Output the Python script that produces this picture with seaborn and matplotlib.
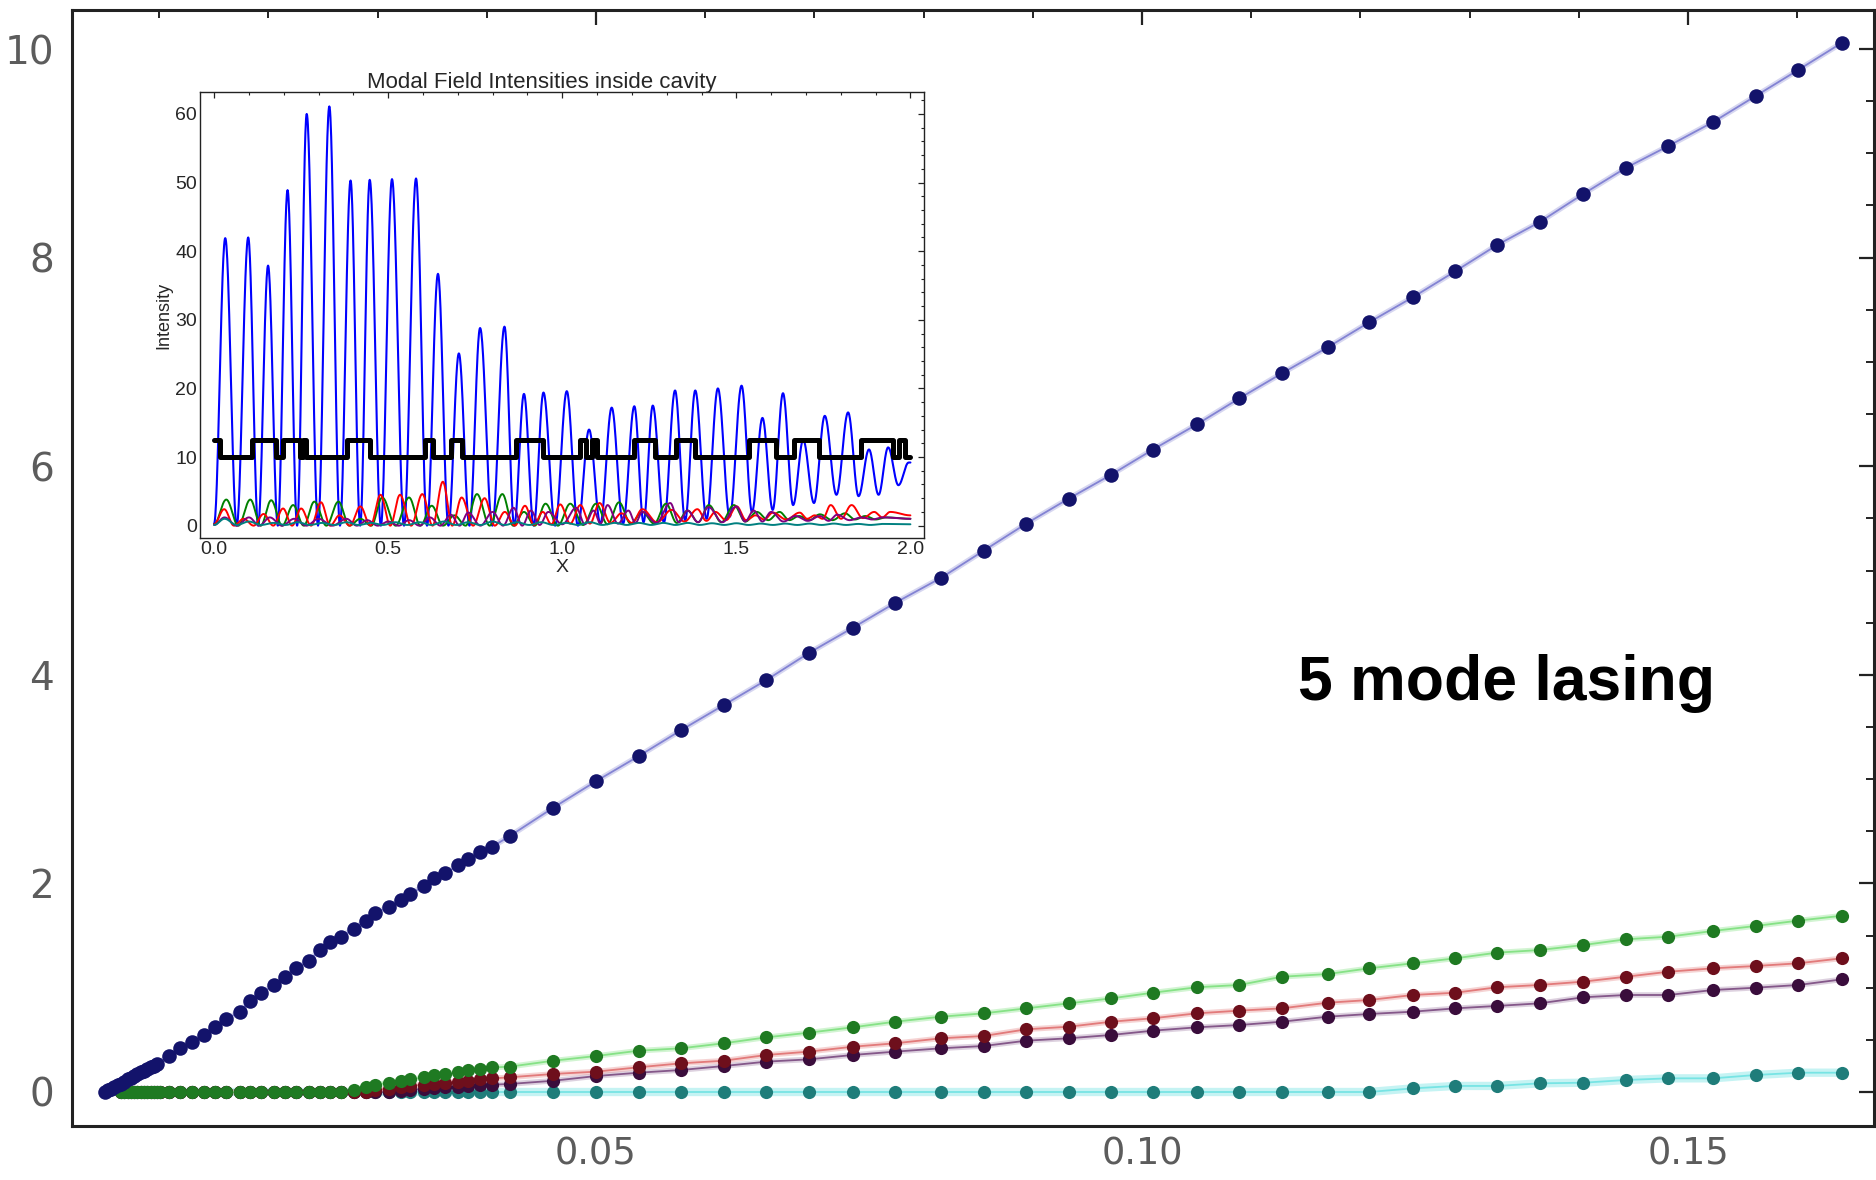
import numpy as np
import matplotlib
matplotlib.use("Agg")
import matplotlib.pyplot as plt
import seaborn as sns
from matplotlib.ticker import MultipleLocator, FixedLocator, FixedFormatter
from matplotlib import font_manager

# ---------------- main panel data (pump vs modal intensity) ----------------
navy_x = [0.0050, 0.0053, 0.0056, 0.0059, 0.0062, 0.0065, 0.0068, 0.0071, 0.0074,
          0.0077, 0.0080, 0.0083, 0.0086, 0.0089, 0.0092, 0.0095, 0.0098,
          0.0109, 0.0119, 0.0130, 0.0141, 0.0151, 0.0161, 0.0174, 0.0183, 0.0193,
          0.0205, 0.0215, 0.0225, 0.0237, 0.0247, 0.0256, 0.0266, 0.0278, 0.0289,
          0.0298, 0.0310, 0.0321, 0.0330, 0.0342, 0.0352, 0.0362, 0.0374, 0.0383,
          0.0394, 0.0405,
          0.0421, 0.0461, 0.0500, 0.0539, 0.0578, 0.0617, 0.0656, 0.0695, 0.0735,
          0.0774, 0.0816, 0.0855, 0.0894, 0.0933, 0.0972, 0.1010, 0.1050, 0.1089,
          0.1128, 0.1170, 0.1208, 0.1248, 0.1287, 0.1325, 0.1364, 0.1404, 0.1443,
          0.1482, 0.1523, 0.1562, 0.1601, 0.1641]
navy_y = [0.00, 0.02, 0.03, 0.05, 0.07, 0.08, 0.10, 0.12, 0.13,
          0.15, 0.17, 0.19, 0.20, 0.22, 0.24, 0.25, 0.27,
          0.345, 0.419, 0.482, 0.547, 0.626, 0.697, 0.770, 0.876, 0.946,
          1.026, 1.100, 1.186, 1.256, 1.361, 1.441, 1.489, 1.563, 1.643,
          1.719, 1.771, 1.841, 1.898, 1.975, 2.049, 2.097, 2.176, 2.231,
          2.304, 2.352,
          2.454, 2.727, 2.98, 3.22, 3.47, 3.71, 3.95, 4.21, 4.45,
          4.69, 4.93, 5.19, 5.45, 5.69, 5.92, 6.16, 6.40, 6.65,
          6.89, 7.14, 7.38, 7.62, 7.87, 8.12, 8.34, 8.61, 8.86,
          9.07, 9.30, 9.55, 9.80, 10.06]

mode_x = [0.0065, 0.0068, 0.0071, 0.0074, 0.0077, 0.0080, 0.0083, 0.0086, 0.0089,
          0.0092, 0.0095, 0.0098, 0.0101,
          0.0109, 0.0119, 0.0130, 0.0141, 0.0151, 0.0161, 0.0174, 0.0183, 0.0193,
          0.0205, 0.0215, 0.0225, 0.0237, 0.0247, 0.0256, 0.0266, 0.0278, 0.0289,
          0.0298, 0.0310, 0.0321, 0.0330, 0.0342, 0.0352, 0.0362, 0.0374, 0.0383,
          0.0394, 0.0405,
          0.0421, 0.0461, 0.0500, 0.0539, 0.0578, 0.0617, 0.0656, 0.0695, 0.0735,
          0.0774, 0.0816, 0.0855, 0.0894, 0.0933, 0.0972, 0.1010, 0.1050, 0.1089,
          0.1128, 0.1170, 0.1208, 0.1248, 0.1287, 0.1325, 0.1364, 0.1404, 0.1443,
          0.1482, 0.1523, 0.1562, 0.1601, 0.1641]
green_y = [0]*13 + [0]*16 + [0.02, 0.05, 0.07, 0.09, 0.11, 0.12, 0.14, 0.16, 0.17,
           0.19, 0.21, 0.22, 0.235] + \
          [0.243, 0.30, 0.345, 0.396, 0.419, 0.467, 0.524, 0.569, 0.62, 0.674, 0.722,
           0.754, 0.802, 0.850, 0.898, 0.952, 1.004, 1.026, 1.105, 1.131, 1.186,
           1.234, 1.282, 1.336, 1.361, 1.409, 1.464, 1.489, 1.544, 1.592, 1.643, 1.690]
red_y = [0]*13 + [0]*18 + [0.02, 0.03, 0.05, 0.06, 0.07, 0.08, 0.09, 0.10, 0.11,
         0.12, 0.13] + \
        [0.141, 0.173, 0.195, 0.237, 0.275, 0.30, 0.355, 0.387, 0.434, 0.467, 0.515,
         0.537, 0.601, 0.626, 0.674, 0.707, 0.754, 0.780, 0.802, 0.856, 0.882,
         0.930, 0.952, 1.004, 1.026, 1.058, 1.105, 1.153, 1.186, 1.208, 1.234, 1.282]
purple_y = [0]*13 + [0]*20 + [0.01, 0.02, 0.03, 0.04, 0.045, 0.05, 0.06, 0.065, 0.07] + \
           [0.077, 0.108, 0.153, 0.185, 0.211, 0.249, 0.291, 0.313, 0.355, 0.387, 0.419,
            0.441, 0.492, 0.515, 0.547, 0.588, 0.620, 0.642, 0.674, 0.722, 0.748,
            0.770, 0.802, 0.825, 0.850, 0.908, 0.930, 0.930, 0.978, 1.000, 1.026, 1.080]
teal_y = [0]*13 + [0]*29 + [0]*21 + \
         [0.035, 0.058, 0.058, 0.083, 0.089, 0.115, 0.131, 0.131, 0.163, 0.185, 0.185]

x_major = [0.05, 0.10, 0.15]
x_major_labels = ["0.05", "0.10", "0.15"]
y_major = [0, 2, 4, 6, 8, 10]
y_major_labels = ["0", "2", "4", "6", "8", "10"]
annotation = "5 mode lasing"

# ---------------- inset data (field intensity along cavity) ----------------
blue_px = [0.032, 0.098, 0.155, 0.211, 0.266, 0.331, 0.392, 0.447, 0.511, 0.580,
           0.643, 0.703, 0.764, 0.834, 0.890, 0.946, 1.013, 1.077, 1.142, 1.207,
           1.260, 1.324, 1.382, 1.447, 1.515, 1.575, 1.634, 1.692, 1.754, 1.821,
           1.881, 1.936, 1.995]
blue_ph = [41.9, 42.0, 37.9, 48.9, 60.0, 61.1, 50.3, 50.4, 50.5, 50.6,
           36.7, 25.1, 28.8, 29.0, 19.2, 19.4, 19.6, 14.0, 17.2, 17.4,
           17.5, 19.7, 19.7, 20.0, 20.4, 15.7, 19.3, 12.5, 16.0, 16.5,
           11.1, 11.4, 9.2]
blue_tv = [0.3, 0, 0, 0, 0, 0, 0, 0, 0, 0, 0, 0, 0, 0, 0, 0, 0, 0,
           0.3, 0.3, 0.5, 0.5, 0.8, 1.0, 1.3, 2.0, 2.3, 3.0, 3.3, 4.5, 4.3, 4.5, 5.9, 9.2]

green_px = [0.035, 0.104, 0.164, 0.227, 0.288, 0.357, 0.420, 0.483, 0.560, 0.625,
            0.690, 0.755, 0.828, 0.890, 0.952, 1.023, 1.097, 1.163, 1.230, 1.298,
            1.360, 1.421, 1.493, 1.559, 1.624, 1.680, 1.740, 1.812, 1.870, 1.930]
green_ph = [3.8, 3.8, 3.7, 3.0, 3.5, 3.5, 1.0, 4.1, 4.1, 2.9,
            1.5, 4.6, 4.6, 2.0, 3.2, 3.2, 3.2, 3.4, 2.0, 3.2,
            2.2, 3.0, 3.0, 2.0, 2.0, 1.4, 1.65, 1.8, 1.4, 1.2]
green_tv = [0.2, 0, 0, 0, 0, 0, 0, 0, 0, 0, 0, 0, 0, 0, 0, 0, 0.1, 0.2, 0.3, 0.3,
            0.4, 0.5, 0.5, 0.6, 0.8, 0.8, 0.8, 0.8, 0.9, 0.9, 1.0]

red_px = [0.029, 0.085, 0.142, 0.198, 0.250, 0.307, 0.360, 0.420, 0.478, 0.534,
          0.598, 0.657, 0.711, 0.777, 0.835, 0.893, 0.944, 0.994, 1.052, 1.107,
          1.170, 1.230, 1.314, 1.388, 1.440, 1.501, 1.555, 1.605, 1.682, 1.725,
          1.771, 1.831, 1.896, 1.942]
red_ph = [2.4, 1.0, 1.7, 2.5, 2.5, 3.4, 1.5, 2.8, 4.5, 4.5,
          4.6, 6.4, 4.1, 4.0, 2.0, 2.9, 2.0, 3.1, 3.0, 3.3,
          1.8, 2.4, 2.3, 2.4, 2.0, 2.8, 1.5, 1.9, 1.9, 1.5,
          3.0, 3.0, 2.0, 2.0]
red_tv = [0.2, 0, 0, 0, 0, 0, 0, 0, 0, 0, 0, 0, 0, 0, 0, 0, 0.1, 0.2, 0.3, 0.3,
          0.4, 0.4, 0.5, 0.6, 0.7, 0.8, 0.8, 0.9, 0.9, 1.0, 1.0, 1.0, 1.1, 1.2, 1.5]

purple_px = [0.030, 0.100, 0.160, 0.230, 0.300, 0.380, 0.440, 0.500, 0.560, 0.620,
             0.680, 0.730, 0.800, 0.860, 0.910, 0.960, 1.040, 1.090, 1.130, 1.190,
             1.230, 1.310, 1.360, 1.420, 1.500, 1.550, 1.600, 1.670, 1.740, 1.790,
             1.860, 1.920]
purple_ph = [1.2, 1.2, 1.2, 1.0, 1.0, 1.0, 0.8, 0.6, 0.8, 1.2,
             1.6, 1.9, 2.0, 2.6, 2.2, 2.0, 2.6, 2.2, 3.0, 2.2,
             2.0, 3.3, 2.2, 2.7, 2.8, 2.2, 2.0, 1.4, 1.4, 1.6,
             1.2, 1.2]
purple_tv = [0.1, 0, 0, 0, 0, 0, 0, 0, 0, 0, 0, 0, 0, 0, 0, 0.1, 0.2, 0.2, 0.3, 0.3,
             0.4, 0.4, 0.5, 0.5, 0.5, 0.6, 0.6, 0.6, 0.7, 0.7, 0.8, 0.9, 1.0]

teal_px = [0.030, 0.100, 0.170, 0.240, 0.310, 0.380, 0.450, 0.520, 0.590, 0.660,
           0.730, 0.800, 0.870, 0.940, 1.010, 1.080, 1.150, 1.220, 1.290, 1.360,
           1.430, 1.500, 1.570, 1.640, 1.710, 1.780, 1.850, 1.920]
teal_ph = [1.0, 0.6, 0.4, 0.5, 0.4, 0.5, 0.4, 0.5, 0.5, 0.6,
           0.5, 0.6, 0.5, 0.5, 0.4, 0.5, 0.4, 0.4, 0.4, 0.4,
           0.35, 0.35, 0.3, 0.3, 0.3, 0.3, 0.25, 0.25]
teal_tv = [0.1] * 28 + [0.2]

step_x = [0.0, 0.017, 0.109, 0.177, 0.198, 0.246, 0.255, 0.265, 0.382, 0.447,
          0.605, 0.630, 0.680, 0.713, 0.868, 0.946, 1.052, 1.068, 1.085, 1.100,
          1.207, 1.266, 1.328, 1.381, 1.537, 1.614, 1.667, 1.737, 1.858, 1.949,
          1.966, 1.985, 2.0]
step_y = [12.5, 10, 12.5, 10, 12.5, 10, 12.5, 10, 12.5, 10,
          12.5, 10, 12.5, 10, 12.5, 10, 12.5, 10, 12.5, 10,
          12.5, 10, 12.5, 10, 12.5, 10, 12.5, 10, 12.5, 10,
          12.5, 10, 10]

inset_title = "Modal Field Intensities inside cavity"
inset_xlabel = "X"
inset_ylabel = "Intensity"


def lobe_outline(px, ph, tv, x0, x1, n=30):
    """Smooth outline through read peaks (px, ph) and troughs tv."""
    tx = [x0] + [(px[i] + px[i + 1]) / 2 for i in range(len(px) - 1)] + [x1]
    xs, ys = [], []
    u = np.linspace(0, 1, n)
    for i in range(len(px)):
        a, p, b = tx[i], px[i], tx[i + 1]
        xs.append(a + (p - a) * u)
        ys.append(tv[i] + (ph[i] - tv[i]) * np.sin(np.pi / 2 * u) ** 2)
        xs.append(p + (b - p) * u)
        ys.append(tv[i + 1] + (ph[i] - tv[i + 1]) * np.cos(np.pi / 2 * u) ** 2)
    return np.concatenate(xs), np.concatenate(ys)


# ---------------- figure ----------------
sns.set_style("white")
plt.rcParams['font.family'] = ['DejaVu Sans']

W, H = 1876, 1180
fig = plt.figure(figsize=(W / 100, H / 100), dpi=100)
ax = fig.add_axes([72 / W, 1 - 1126 / H, (1874 - 72) / W, (1126 - 10) / H])

series = [
    (mode_x, teal_y, "#1f7d7a", "#6fe3e3", 6, 0.4),
    (mode_x, purple_y, "#3a0d3c", "#7a4a80", 4, 0.25),
    (mode_x, red_y, "#6e0f1c", "#e07070", 4, 0.3),
    (mode_x, green_y, "#1f7a22", "#7ee07e", 4, 0.35),
    (navy_x, navy_y, "#13136b", "#7a7ad0", 4, 0.3),
]
for xs, ys, mc, lc, hw, ha in series:
    sns.lineplot(x=xs, y=ys, ax=ax, color=lc, lw=hw, alpha=ha, sort=False,
                 estimator=None, legend=False)
    sns.lineplot(x=xs, y=ys, ax=ax, color=lc, lw=1.3, alpha=0.9, sort=False,
                 estimator=None, legend=False)
for xs, ys, mc, lc, hw, ha in series:
    size = 110 if mc == "#13136b" else 90
    sns.scatterplot(x=xs, y=ys, ax=ax, color=mc, s=size, linewidth=0,
                    legend=False, zorder=3)

ax.set_xlim(0.00201, 0.16703)
ax.set_ylim(-0.326, 10.374)
ax.xaxis.set_major_locator(FixedLocator(x_major))
ax.xaxis.set_major_formatter(FixedFormatter(x_major_labels))
ax.xaxis.set_minor_locator(MultipleLocator(0.01))
ax.yaxis.set_major_locator(FixedLocator(y_major))
ax.yaxis.set_major_formatter(FixedFormatter(y_major_labels))
ax.yaxis.set_minor_locator(MultipleLocator(0.5))
ax.tick_params(which="both", direction="in", top=True, right=True,
               labelsize=28, labelcolor="#5c5c5c", color="#222222")
ax.tick_params(which="major", length=11, width=1.6)
ax.tick_params(which="minor", length=6, width=1.4)
ax.tick_params(axis="x", which="major", pad=7, labelsize=26.5)
ax.tick_params(axis="y", which="major", pad=13)
for sp in ax.spines.values():
    sp.set_color("#222222")
    sp.set_linewidth(2.2)
ax.set_xlabel("")
ax.set_ylabel("")

ax.text(0.1334, 3.76, annotation, fontsize=45, fontweight="bold",
        family=["Liberation Sans", "DejaVu Sans"], ha="center", va="baseline",
        color="black")

# ---------------- inset ----------------
names = {f.name for f in font_manager.fontManager.ttflist}
narrow = "Liberation Sans Narrow" if "Liberation Sans Narrow" in names else "Liberation Sans"

ax2 = fig.add_axes([200 / W, 1 - 538 / H, 724 / W, 446 / H])
ax2.set_facecolor("white")
bx, by = lobe_outline(blue_px, blue_ph, blue_tv, 0.0, 2.0)
sns.lineplot(x=bx, y=by, ax=ax2, color="#0000ff", lw=1.5, sort=False,
             estimator=None, legend=False)
for px, ph, tv, col in [(green_px, green_ph, green_tv, "#008000"),
                        (red_px, red_ph, red_tv, "#ff0000"),
                        (purple_px, purple_ph, purple_tv, "#800080"),
                        (teal_px, teal_ph, teal_tv, "#008080")]:
    cx, cy = lobe_outline(px, ph, tv, 0.0, 2.0)
    sns.lineplot(x=cx, y=cy, ax=ax2, color=col, lw=1.4, sort=False,
                 estimator=None, legend=False)
sns.lineplot(x=step_x, y=step_y, ax=ax2, color="black", lw=3.6, sort=False,
             estimator=None, legend=False, drawstyle="steps-post")

ax2.set_xlim(-0.0405, 2.039)
ax2.set_ylim(-1.8, 63.2)
ax2.xaxis.set_major_locator(MultipleLocator(0.5))
ax2.xaxis.set_major_formatter(matplotlib.ticker.FormatStrFormatter("%.1f"))
ax2.xaxis.set_minor_locator(MultipleLocator(0.1))
ax2.yaxis.set_major_locator(MultipleLocator(10))
ax2.yaxis.set_minor_locator(MultipleLocator(2))
ax2.tick_params(which="both", direction="in", top=True, right=True,
                labelsize=14, color="#222222", pad=2)
ax2.tick_params(which="major", length=4, width=0.9)
ax2.tick_params(which="minor", length=2, width=0.8)
for lab in ax2.get_xticklabels() + ax2.get_yticklabels():
    lab.set_family([narrow, "DejaVu Sans"])
for sp in ax2.spines.values():
    sp.set_color("#222222")
    sp.set_linewidth(1.0)
ax2.set_xlabel(inset_xlabel, fontsize=14, family=[narrow, "DejaVu Sans"], labelpad=1)
ax2.set_ylabel(inset_ylabel, fontsize=13, family=["Liberation Sans", "DejaVu Sans"], labelpad=2)
ax2.text(0.472, 1.008, inset_title, transform=ax2.transAxes, ha="center",
         va="baseline", fontsize=16, family=[narrow, "DejaVu Sans"])

fig.savefig("out.png", dpi=100, facecolor="white")
